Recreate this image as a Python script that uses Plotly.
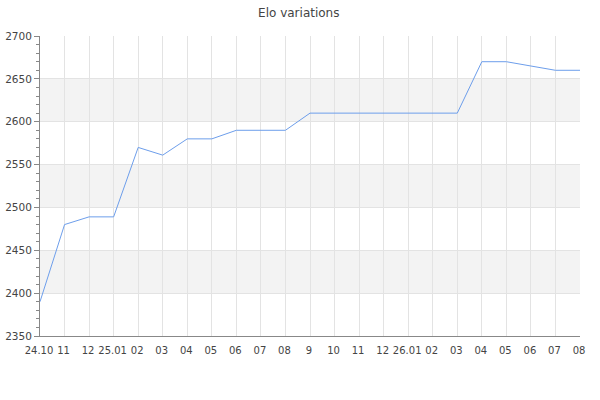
import plotly.graph_objects as go

tick_labels = ["24.10", "11", "12", "25.01", "02", "03", "04", "05", "06", "07", "08",
               "9", "10", "11", "12", "26.01", "02", "03", "04", "05", "06", "07", "08"]
elo = [2390, 2480, 2489, 2489, 2570, 2561, 2580, 2580, 2590, 2590, 2590,
       2610, 2610, 2610, 2610, 2610, 2610, 2610, 2670, 2670, 2665, 2660, 2660]
band_ranges = [(2400, 2450), (2500, 2550), (2600, 2650)]

x = list(range(len(tick_labels)))

fig = go.Figure()
fig.add_trace(go.Scatter(x=x, y=elo, mode="lines",
                         line=dict(color="#6d9eeb", width=1), hoverinfo="y"))

for lo, hi in band_ranges:
    fig.add_shape(type="rect", xref="paper", yref="y", x0=0, x1=1, y0=lo, y1=hi,
                  fillcolor="#f3f3f3", line=dict(width=0), layer="below")

font = "DejaVu Sans, sans-serif"
fig.update_layout(
    width=600, height=400,
    margin=dict(l=40, r=20, t=36, b=64, autoexpand=False),
    paper_bgcolor="white", plot_bgcolor="white",
    showlegend=False,
    title=dict(text="Elo variations", x=0.498, xanchor="center", xref="container",
               y=1 - 13 / 400, yanchor="middle", yref="container",
               font=dict(family=font, size=12, color="#444444")),
    font=dict(family=font, size=10.5, color="#444444"),
)
fig.update_xaxes(
    range=[0, len(x) - 1], tickmode="array", tickvals=x, ticktext=tick_labels,
    showgrid=True, gridcolor="#e3e3e3", gridwidth=1,
    showline=True, linecolor="#888888", linewidth=1,
    ticks="", tickangle=0, zeroline=False, automargin=False,
    ticklabelstandoff=5, ticklabelshift=-1,
    tickfont=dict(family=font, size=10, color="#444444"),
)
fig.update_yaxes(
    range=[2350, 2700], dtick=50, tick0=2350,
    showgrid=True, gridcolor="#e3e3e3", gridwidth=1,
    showline=True, linecolor="#888888", linewidth=1,
    ticks="outside", ticklen=5, tickcolor="#888888", zeroline=False, automargin=False,
    minor=dict(dtick=10, ticks="outside", ticklen=3, tickcolor="#888888", showgrid=False),
    tickfont=dict(family=font, size=10.5, color="#444444"),
)

fig.write_html("out.html", post_script="document.body.style.margin='0';",
               config={"displayModeBar": False})
